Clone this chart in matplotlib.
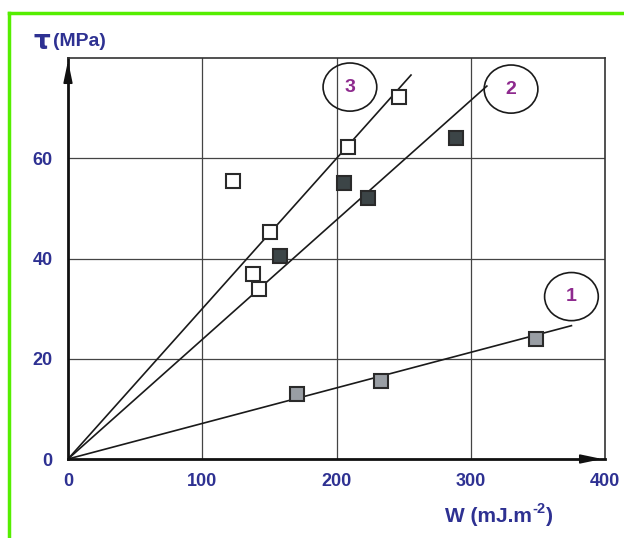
import matplotlib
matplotlib.use('Agg')
import matplotlib.pyplot as plt
from matplotlib.patches import Ellipse
from matplotlib.lines import Line2D

# series 1 (grey squares)
w1 = [170.6, 233, 348.6]
tau1 = [13, 15.6, 24]
# series 2 (dark squares)
w2 = [158, 205.6, 223.5, 289]
tau2 = [40.4, 55, 52, 64]
# series 3 (open squares)
w3 = [123, 137.8, 142.3, 150.5, 208.6, 246.5]
tau3 = [55.4, 37, 34, 45.2, 62.2, 72.2]

# fitted lines through the origin: (end W, end tau)
fit_ends = {'1': (375, 26.6), '2': (312, 74.4), '3': (255.5, 76.6)}
# label positions (centre of ellipses)
label_pos = {'1': (375, 32.4), '2': (330, 73.8), '3': (210, 74.2)}

x_ticks = [0, 100, 200, 300, 400]
y_ticks = [0, 20, 40, 60]

blue = '#2e3192'
purple = '#8e2a8e'

plt.rcParams['font.family'] = ['Liberation Sans', 'DejaVu Sans']

fig = plt.figure(figsize=(6.24, 5.38), dpi=100)
ax = fig.add_axes([68 / 624, 1 - 459 / 538, 537 / 624, 401 / 538])
ax.set_xlim(0, 400)
ax.set_ylim(0, 80)

for xv in x_ticks[1:-1]:
    ax.axvline(xv, color='#444444', lw=0.9, zorder=1)
for yv in y_ticks[1:]:
    ax.axhline(yv, color='#444444', lw=0.9, zorder=1)

for k, (xe, ye) in fit_ends.items():
    ax.plot([0, xe], [0, ye], color='#1a1a1a', lw=1.2, zorder=2)

ax.plot(w1, tau1, 's', ms=10, mfc='#999ea4', mec='#2a2a2a', mew=1.5, zorder=3)
ax.plot(w2, tau2, 's', ms=10, mfc='#3c4547', mec='#2a2a2a', mew=1.5, zorder=3)
ax.plot(w3, tau3, 's', ms=10, mfc='white', mec='#2a2a2a', mew=1.5, zorder=3)

for k, (xc, yc) in label_pos.items():
    ax.add_patch(Ellipse((xc, yc), 40, 9.6, fill=False, ec='#1a1a1a', lw=1.2, zorder=4))
    ax.text(xc, yc, k, color=purple, fontsize=14, fontweight='bold',
            ha='center', va='center', zorder=5)

for s in ['top', 'right']:
    ax.spines[s].set_color('#333333')
    ax.spines[s].set_linewidth(1.2)
for s in ['left', 'bottom']:
    ax.spines[s].set_color('#111111')
    ax.spines[s].set_linewidth(2)

# arrow heads on axes
ax.annotate('', xy=(400, 0), xytext=(388, 0),
            arrowprops=dict(arrowstyle='-|>,head_length=1.2,head_width=0.25',
                            color='#111111', lw=1.2, mutation_scale=11))
ax.annotate('', xy=(0, 80), xytext=(0, 76),
            arrowprops=dict(arrowstyle='-|>,head_length=1.2,head_width=0.25',
                            color='#111111', lw=1.2, mutation_scale=11))

ax.set_xticks(x_ticks)
ax.set_yticks(y_ticks)
ax.tick_params(length=0, labelsize=13, labelcolor=blue)
ax.tick_params(axis='x', pad=10)
ax.tick_params(axis='y', pad=11)
for lab in ax.get_xticklabels() + ax.get_yticklabels():
    lab.set_fontweight('bold')

# x label with a plain hyphen in the exponent
xl = fig.text(445 / 624, 1 - 516 / 538, 'W (mJ.m', color=blue, fontsize=15,
              fontweight='bold', ha='left', va='center')
fig.canvas.draw()
bb = xl.get_window_extent()
sup = fig.text(bb.x1 / 624 + 0.001, 1 - 509 / 538, '-2', color=blue, fontsize=10.5,
               fontweight='bold', ha='left', va='center')
fig.canvas.draw()
bb2 = sup.get_window_extent()
fig.text(bb2.x1 / 624, 1 - 516 / 538, ')', color=blue, fontsize=15,
         fontweight='bold', ha='left', va='center')

# y label
fig.text(33 / 624, 1 - 42 / 538, 'τ', color=blue, fontsize=19,
         fontweight='bold', ha='left', va='center', family='DejaVu Sans')
fig.text(53 / 624, 1 - 42 / 538, '(MPa)', color=blue, fontsize=14,
         fontweight='bold', ha='left', va='center')

# green frame
green = '#55ee00'
fig.add_artist(Line2D([9 / 624, 1.0], [1 - 13 / 538] * 2, color=green, lw=2.5,
                      transform=fig.transFigure))
fig.add_artist(Line2D([9 / 624] * 2, [0, 1 - 13 / 538], color=green, lw=2.5,
                      transform=fig.transFigure))

fig.savefig('out.png', dpi=100)
